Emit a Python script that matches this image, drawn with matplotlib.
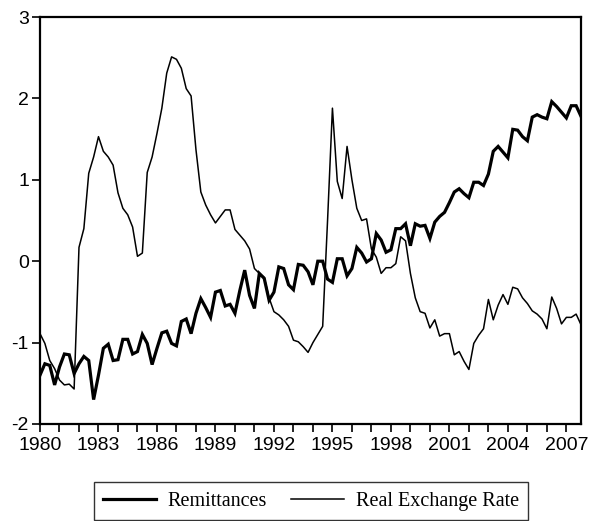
import matplotlib
matplotlib.use("Agg")
import matplotlib.pyplot as plt
import numpy as np
import pandas as pd
from matplotlib.lines import Line2D

# Quarterly observations 1980Q1 - 2007Q4
quarters = pd.period_range("1980Q1", "2007Q4", freq="Q")

remittances = [
    -1.40, -1.26, -1.28, -1.52, -1.30, -1.14, -1.15, -1.38,   # 1980-81
    -1.26, -1.17, -1.22, -1.70, -1.40, -1.07, -1.02, -1.22,   # 1982-83
    -1.21, -0.96, -0.96, -1.14, -1.11, -0.90, -1.01, -1.27,   # 1984-85
    -1.07, -0.88, -0.86, -1.01, -1.04, -0.74, -0.71, -0.89,   # 1986-87
    -0.64, -0.46, -0.57, -0.69, -0.38, -0.36, -0.55, -0.53,   # 1988-89
    -0.64, -0.36, -0.11, -0.42, -0.58, -0.15, -0.21, -0.48,   # 1990-91
    -0.38, -0.07, -0.09, -0.29, -0.35, -0.04, -0.05, -0.13,   # 1992-93
    -0.29, 0.00, 0.00, -0.22, -0.26, 0.03, 0.03, -0.18,       # 1994-95
    -0.09, 0.17, 0.10, -0.01, 0.03, 0.34, 0.26, 0.11,         # 1996-97
    0.14, 0.40, 0.40, 0.46, 0.19, 0.46, 0.43, 0.44,           # 1998-99
    0.28, 0.48, 0.55, 0.60, 0.72, 0.85, 0.89, 0.83,           # 2000-01
    0.78, 0.97, 0.97, 0.93, 1.07, 1.35, 1.41, 1.34,           # 2002-03
    1.27, 1.62, 1.61, 1.53, 1.48, 1.77, 1.80, 1.77,           # 2004-05
    1.75, 1.96, 1.90, 1.83, 1.76, 1.91, 1.91, 1.78,           # 2006-07
]

real_exchange_rate = [
    -0.89, -1.01, -1.22, -1.32, -1.46, -1.52, -1.51, -1.57,   # 1980-81
    0.17, 0.40, 1.08, 1.28, 1.53, 1.35, 1.28, 1.18,           # 1982-83
    0.84, 0.65, 0.57, 0.42, 0.06, 0.10, 1.09, 1.28,           # 1984-85
    1.57, 1.88, 2.31, 2.51, 2.48, 2.37, 2.12, 2.03,           # 1986-87
    1.37, 0.85, 0.69, 0.57, 0.47, 0.55, 0.63, 0.63,           # 1988-89
    0.39, 0.32, 0.25, 0.15, -0.09, -0.15, -0.20, -0.45,       # 1990-91
    -0.62, -0.66, -0.72, -0.80, -0.97, -0.99, -1.05, -1.12,   # 1992-93
    -1.00, -0.90, -0.80, 0.50, 1.88, 0.98, 0.77, 1.41,        # 1994-95
    1.00, 0.65, 0.50, 0.52, 0.15, 0.05, -0.15, -0.08,         # 1996-97
    -0.08, -0.03, 0.30, 0.25, -0.15, -0.45, -0.62, -0.64,     # 1998-99
    -0.82, -0.72, -0.92, -0.89, -0.89, -1.15, -1.11, -1.23,   # 2000-01
    -1.33, -1.01, -0.91, -0.83, -0.47, -0.72, -0.54, -0.41,   # 2002-03
    -0.53, -0.32, -0.34, -0.45, -0.52, -0.61, -0.65, -0.71,   # 2004-05
    -0.83, -0.44, -0.58, -0.77, -0.69, -0.69, -0.65, -0.78,   # 2006-07
]

tick_years = list(range(1980, 2008))
label_years = list(range(1980, 2008, 3))
y_ticks = [-2, -1, 0, 1, 2, 3]

series_labels = ["Remittances", "Real Exchange Rate"]

plt.rcParams["axes.unicode_minus"] = False

x = quarters.year + (quarters.quarter - 1) / 4.0

fig = plt.figure(figsize=(5.99, 5.21), dpi=100)
ax = fig.add_axes([40 / 599, (521 - 424) / 521, 541 / 599, 407 / 521])

ax.plot(x, remittances, color="black", lw=2.3, solid_joinstyle="miter")
ax.plot(x, real_exchange_rate, color="black", lw=1.1)

ax.set_xlim(1980, 2007.75)
ax.set_ylim(-2, 3)

ax.set_xticks(tick_years)
ax.set_xticklabels([str(y) if y in label_years else "" for y in tick_years])
ax.set_yticks(y_ticks)
ax.set_yticklabels([str(v) for v in y_ticks])

for lab in ax.get_xticklabels() + ax.get_yticklabels():
    lab.set_fontfamily("Liberation Sans")
    lab.set_fontsize(14)

ax.tick_params(axis="both", direction="out", length=6, width=1.2, color="black")
ax.tick_params(axis="x", pad=3)
ax.tick_params(axis="y", pad=2)
for sp in ax.spines.values():
    sp.set_linewidth(1.6)
    sp.set_color("black")

handles = [Line2D([], [], color="black", lw=2.3),
           Line2D([], [], color="black", lw=1.1)]
leg = fig.legend(handles, series_labels, loc="center",
                 bbox_to_anchor=(311 / 599, (521 - 501) / 521),
                 ncol=2, frameon=True, fancybox=False,
                 prop={"family": "Liberation Serif", "size": 14.5},
                 handlelength=2.6, columnspacing=1.2, handletextpad=0.6,
                 borderpad=0.45, borderaxespad=0)
leg.get_frame().set_edgecolor("black")
leg.get_frame().set_linewidth(1.0)

fig.savefig("out.png", dpi=100)
